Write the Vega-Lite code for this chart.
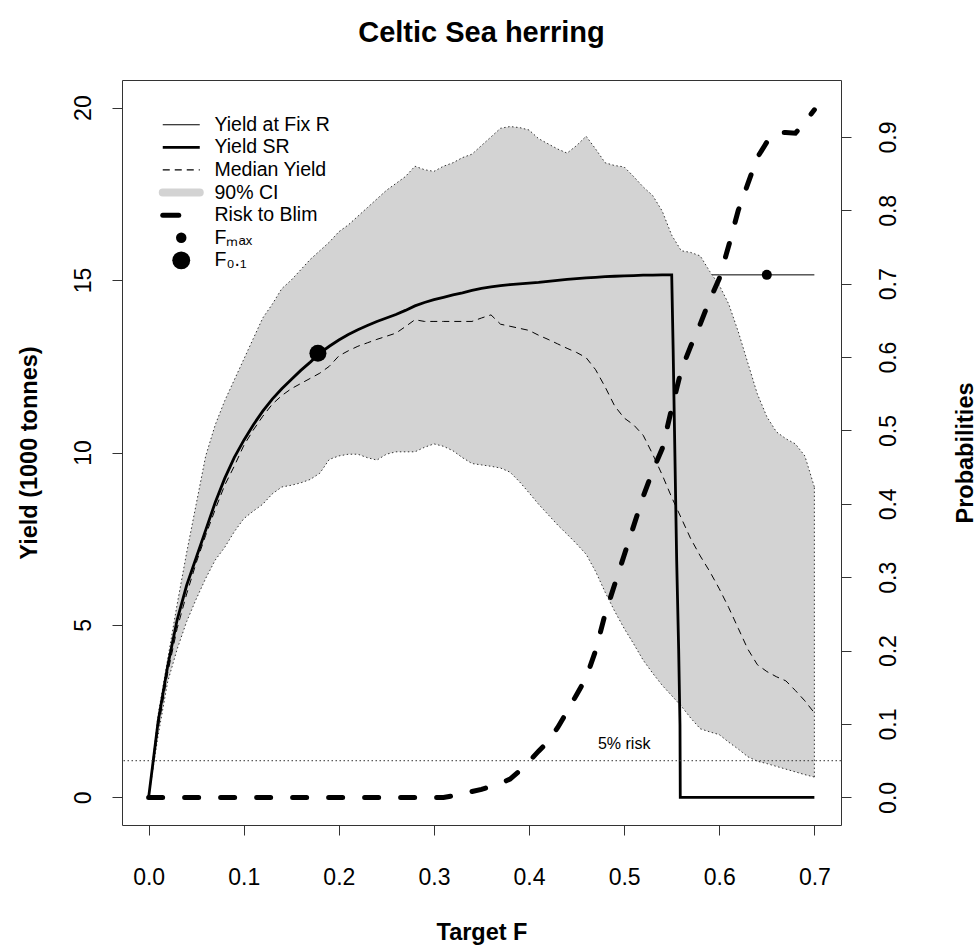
{
"$schema": "https://vega.github.io/schema/vega-lite/v6.json",
"width": 719, "height": 745,
"autosize": {"type": "none"},
"padding": {"left": 122, "top": 80, "right": 137, "bottom": 120},
"background": "white",
"title": {"text": "Celtic Sea herring", "fontSize": 29, "fontWeight": "bold", "font": "Liberation Sans", "color": "#000", "anchor": "middle", "frame": "group", "baseline": "bottom", "offset": 3},
"datasets": {
"sr": [
{"F":0,"Y":0,"series":"Yield SR"},{"F":0.01,"Y":2.2,"series":"Yield SR"},{"F":0.02,"Y":3.8,"series":"Yield SR"},{"F":0.03,"Y":5.15,"series":"Yield SR"},{"F":0.04,"Y":6.15,"series":"Yield SR"},{"F":0.05,"Y":6.95,"series":"Yield SR"},{"F":0.06,"Y":7.75,"series":"Yield SR"},{"F":0.07,"Y":8.55,"series":"Yield SR"},{"F":0.08,"Y":9.25,"series":"Yield SR"},{"F":0.09,"Y":9.85,"series":"Yield SR"},{"F":0.1,"Y":10.35,"series":"Yield SR"},{"F":0.11,"Y":10.8,"series":"Yield SR"},{"F":0.12,"Y":11.2,"series":"Yield SR"},{"F":0.13,"Y":11.55,"series":"Yield SR"},{"F":0.14,"Y":11.85,"series":"Yield SR"},{"F":0.15,"Y":12.12,"series":"Yield SR"},{"F":0.16,"Y":12.38,"series":"Yield SR"},{"F":0.17,"Y":12.62,"series":"Yield SR"},{"F":0.18,"Y":12.88,"series":"Yield SR"},{"F":0.19,"Y":13.08,"series":"Yield SR"},{"F":0.2,"Y":13.26,"series":"Yield SR"},{"F":0.21,"Y":13.42,"series":"Yield SR"},{"F":0.22,"Y":13.56,"series":"Yield SR"},{"F":0.23,"Y":13.68,"series":"Yield SR"},{"F":0.24,"Y":13.8,"series":"Yield SR"},{"F":0.25,"Y":13.9,"series":"Yield SR"},{"F":0.26,"Y":14.0,"series":"Yield SR"},{"F":0.27,"Y":14.12,"series":"Yield SR"},{"F":0.28,"Y":14.25,"series":"Yield SR"},{"F":0.29,"Y":14.35,"series":"Yield SR"},{"F":0.3,"Y":14.43,"series":"Yield SR"},{"F":0.31,"Y":14.5,"series":"Yield SR"},{"F":0.32,"Y":14.57,"series":"Yield SR"},{"F":0.33,"Y":14.63,"series":"Yield SR"},{"F":0.34,"Y":14.7,"series":"Yield SR"},{"F":0.35,"Y":14.76,"series":"Yield SR"},{"F":0.36,"Y":14.8,"series":"Yield SR"},{"F":0.37,"Y":14.84,"series":"Yield SR"},{"F":0.38,"Y":14.87,"series":"Yield SR"},{"F":0.39,"Y":14.89,"series":"Yield SR"},{"F":0.4,"Y":14.91,"series":"Yield SR"},{"F":0.41,"Y":14.93,"series":"Yield SR"},{"F":0.42,"Y":14.96,"series":"Yield SR"},{"F":0.43,"Y":14.99,"series":"Yield SR"},{"F":0.44,"Y":15.02,"series":"Yield SR"},{"F":0.45,"Y":15.04,"series":"Yield SR"},{"F":0.46,"Y":15.06,"series":"Yield SR"},{"F":0.47,"Y":15.08,"series":"Yield SR"},{"F":0.48,"Y":15.1,"series":"Yield SR"},{"F":0.49,"Y":15.11,"series":"Yield SR"},{"F":0.5,"Y":15.12,"series":"Yield SR"},{"F":0.51,"Y":15.13,"series":"Yield SR"},{"F":0.52,"Y":15.14,"series":"Yield SR"},{"F":0.53,"Y":15.14,"series":"Yield SR"},{"F":0.54,"Y":15.15,"series":"Yield SR"},{"F":0.55,"Y":15.15,"series":"Yield SR"},{"F":0.5515,"Y":13.0,"series":"Yield SR"},{"F":0.5552,"Y":6.9,"series":"Yield SR"},{"F":0.5573,"Y":4.3,"series":"Yield SR"},{"F":0.5587,"Y":2.1,"series":"Yield SR"},{"F":0.559,"Y":0,"series":"Yield SR"},{"F":0.6,"Y":0,"series":"Yield SR"},{"F":0.65,"Y":0,"series":"Yield SR"},{"F":0.7,"Y":0,"series":"Yield SR"}
],
"fixr": [
{"F":0,"Y":0,"series":"Yield at Fix R"},{"F":0.01,"Y":2.2,"series":"Yield at Fix R"},{"F":0.02,"Y":3.8,"series":"Yield at Fix R"},{"F":0.03,"Y":5.15,"series":"Yield at Fix R"},{"F":0.04,"Y":6.15,"series":"Yield at Fix R"},{"F":0.05,"Y":6.95,"series":"Yield at Fix R"},{"F":0.06,"Y":7.75,"series":"Yield at Fix R"},{"F":0.07,"Y":8.55,"series":"Yield at Fix R"},{"F":0.08,"Y":9.25,"series":"Yield at Fix R"},{"F":0.09,"Y":9.85,"series":"Yield at Fix R"},{"F":0.1,"Y":10.35,"series":"Yield at Fix R"},{"F":0.12,"Y":11.2,"series":"Yield at Fix R"},{"F":0.14,"Y":11.85,"series":"Yield at Fix R"},{"F":0.16,"Y":12.38,"series":"Yield at Fix R"},{"F":0.18,"Y":12.88,"series":"Yield at Fix R"},{"F":0.2,"Y":13.26,"series":"Yield at Fix R"},{"F":0.22,"Y":13.56,"series":"Yield at Fix R"},{"F":0.24,"Y":13.8,"series":"Yield at Fix R"},{"F":0.26,"Y":14.0,"series":"Yield at Fix R"},{"F":0.28,"Y":14.25,"series":"Yield at Fix R"},{"F":0.3,"Y":14.43,"series":"Yield at Fix R"},{"F":0.32,"Y":14.57,"series":"Yield at Fix R"},{"F":0.34,"Y":14.7,"series":"Yield at Fix R"},{"F":0.36,"Y":14.8,"series":"Yield at Fix R"},{"F":0.38,"Y":14.87,"series":"Yield at Fix R"},{"F":0.4,"Y":14.91,"series":"Yield at Fix R"},{"F":0.42,"Y":14.96,"series":"Yield at Fix R"},{"F":0.44,"Y":15.02,"series":"Yield at Fix R"},{"F":0.46,"Y":15.06,"series":"Yield at Fix R"},{"F":0.48,"Y":15.1,"series":"Yield at Fix R"},{"F":0.5,"Y":15.12,"series":"Yield at Fix R"},{"F":0.52,"Y":15.14,"series":"Yield at Fix R"},{"F":0.54,"Y":15.15,"series":"Yield at Fix R"},{"F":0.56,"Y":15.15,"series":"Yield at Fix R"},{"F":0.6,"Y":15.15,"series":"Yield at Fix R"},{"F":0.65,"Y":15.15,"series":"Yield at Fix R"},{"F":0.7,"Y":15.15,"series":"Yield at Fix R"}
],
"median": [
{"F":0,"Y":0,"series":"Median Yield"},{"F":0.01,"Y":2.0,"series":"Median Yield"},{"F":0.02,"Y":3.6,"series":"Median Yield"},{"F":0.03,"Y":4.9,"series":"Median Yield"},{"F":0.04,"Y":5.9,"series":"Median Yield"},{"F":0.05,"Y":6.8,"series":"Median Yield"},{"F":0.06,"Y":7.6,"series":"Median Yield"},{"F":0.07,"Y":8.35,"series":"Median Yield"},{"F":0.08,"Y":9.05,"series":"Median Yield"},{"F":0.09,"Y":9.6,"series":"Median Yield"},{"F":0.1,"Y":10.2,"series":"Median Yield"},{"F":0.11,"Y":10.65,"series":"Median Yield"},{"F":0.12,"Y":11.05,"series":"Median Yield"},{"F":0.13,"Y":11.4,"series":"Median Yield"},{"F":0.14,"Y":11.65,"series":"Median Yield"},{"F":0.15,"Y":11.85,"series":"Median Yield"},{"F":0.16,"Y":12.0,"series":"Median Yield"},{"F":0.17,"Y":12.15,"series":"Median Yield"},{"F":0.18,"Y":12.3,"series":"Median Yield"},{"F":0.19,"Y":12.5,"series":"Median Yield"},{"F":0.2,"Y":12.8,"series":"Median Yield"},{"F":0.21,"Y":12.95,"series":"Median Yield"},{"F":0.22,"Y":13.08,"series":"Median Yield"},{"F":0.23,"Y":13.18,"series":"Median Yield"},{"F":0.24,"Y":13.28,"series":"Median Yield"},{"F":0.25,"Y":13.37,"series":"Median Yield"},{"F":0.26,"Y":13.46,"series":"Median Yield"},{"F":0.27,"Y":13.65,"series":"Median Yield"},{"F":0.28,"Y":13.85,"series":"Median Yield"},{"F":0.29,"Y":13.8,"series":"Median Yield"},{"F":0.3,"Y":13.8,"series":"Median Yield"},{"F":0.31,"Y":13.8,"series":"Median Yield"},{"F":0.32,"Y":13.8,"series":"Median Yield"},{"F":0.33,"Y":13.8,"series":"Median Yield"},{"F":0.34,"Y":13.8,"series":"Median Yield"},{"F":0.35,"Y":13.9,"series":"Median Yield"},{"F":0.36,"Y":13.99,"series":"Median Yield"},{"F":0.37,"Y":13.72,"series":"Median Yield"},{"F":0.38,"Y":13.66,"series":"Median Yield"},{"F":0.39,"Y":13.6,"series":"Median Yield"},{"F":0.4,"Y":13.54,"series":"Median Yield"},{"F":0.41,"Y":13.4,"series":"Median Yield"},{"F":0.42,"Y":13.28,"series":"Median Yield"},{"F":0.43,"Y":13.15,"series":"Median Yield"},{"F":0.44,"Y":13.02,"series":"Median Yield"},{"F":0.45,"Y":12.9,"series":"Median Yield"},{"F":0.46,"Y":12.75,"series":"Median Yield"},{"F":0.47,"Y":12.4,"series":"Median Yield"},{"F":0.48,"Y":11.9,"series":"Median Yield"},{"F":0.49,"Y":11.35,"series":"Median Yield"},{"F":0.5,"Y":11.0,"series":"Median Yield"},{"F":0.51,"Y":10.8,"series":"Median Yield"},{"F":0.52,"Y":10.5,"series":"Median Yield"},{"F":0.53,"Y":9.95,"series":"Median Yield"},{"F":0.54,"Y":9.35,"series":"Median Yield"},{"F":0.55,"Y":8.7,"series":"Median Yield"},{"F":0.56,"Y":8.1,"series":"Median Yield"},{"F":0.57,"Y":7.5,"series":"Median Yield"},{"F":0.58,"Y":7.0,"series":"Median Yield"},{"F":0.59,"Y":6.55,"series":"Median Yield"},{"F":0.6,"Y":6.05,"series":"Median Yield"},{"F":0.61,"Y":5.5,"series":"Median Yield"},{"F":0.62,"Y":4.9,"series":"Median Yield"},{"F":0.63,"Y":4.3,"series":"Median Yield"},{"F":0.64,"Y":3.85,"series":"Median Yield"},{"F":0.65,"Y":3.65,"series":"Median Yield"},{"F":0.66,"Y":3.5,"series":"Median Yield"},{"F":0.67,"Y":3.38,"series":"Median Yield"},{"F":0.68,"Y":3.1,"series":"Median Yield"},{"F":0.69,"Y":2.8,"series":"Median Yield"},{"F":0.7,"Y":2.45,"series":"Median Yield"}
],
"ci": [
{"F":0,"lo":0,"hi":0},{"F":0.01,"lo":1.8,"hi":2.4},{"F":0.02,"lo":3.35,"hi":4.0},{"F":0.03,"lo":4.3,"hi":5.6},{"F":0.04,"lo":5.1,"hi":7.1},{"F":0.05,"lo":5.75,"hi":8.5},{"F":0.06,"lo":6.35,"hi":9.9},{"F":0.07,"lo":6.88,"hi":10.8},{"F":0.08,"lo":7.25,"hi":11.5},{"F":0.09,"lo":7.7,"hi":12.1},{"F":0.1,"lo":8.08,"hi":12.7},{"F":0.11,"lo":8.3,"hi":13.3},{"F":0.12,"lo":8.5,"hi":13.9},{"F":0.13,"lo":8.8,"hi":14.3},{"F":0.14,"lo":9.0,"hi":14.75},{"F":0.15,"lo":9.05,"hi":15.0},{"F":0.16,"lo":9.12,"hi":15.3},{"F":0.17,"lo":9.22,"hi":15.6},{"F":0.18,"lo":9.4,"hi":15.85},{"F":0.19,"lo":9.8,"hi":16.1},{"F":0.2,"lo":9.9,"hi":16.4},{"F":0.21,"lo":9.95,"hi":16.6},{"F":0.22,"lo":9.95,"hi":16.85},{"F":0.23,"lo":9.85,"hi":17.1},{"F":0.24,"lo":9.78,"hi":17.35},{"F":0.25,"lo":9.95,"hi":17.6},{"F":0.26,"lo":10.02,"hi":17.8},{"F":0.27,"lo":10.02,"hi":18.0},{"F":0.28,"lo":10.02,"hi":18.3},{"F":0.29,"lo":10.15,"hi":18.2},{"F":0.3,"lo":10.25,"hi":18.15},{"F":0.31,"lo":10.18,"hi":18.3},{"F":0.32,"lo":10.05,"hi":18.4},{"F":0.33,"lo":9.85,"hi":18.55},{"F":0.34,"lo":9.68,"hi":18.65},{"F":0.35,"lo":9.64,"hi":18.9},{"F":0.36,"lo":9.6,"hi":19.15},{"F":0.37,"lo":9.55,"hi":19.4},{"F":0.38,"lo":9.43,"hi":19.45},{"F":0.39,"lo":9.15,"hi":19.42},{"F":0.4,"lo":8.83,"hi":19.35},{"F":0.41,"lo":8.5,"hi":19.1},{"F":0.42,"lo":8.2,"hi":18.95},{"F":0.43,"lo":7.9,"hi":18.8},{"F":0.44,"lo":7.63,"hi":18.68},{"F":0.45,"lo":7.35,"hi":18.9},{"F":0.46,"lo":7.05,"hi":19.17},{"F":0.47,"lo":6.55,"hi":18.8},{"F":0.48,"lo":5.95,"hi":18.4},{"F":0.49,"lo":5.4,"hi":18.32},{"F":0.5,"lo":4.9,"hi":18.28},{"F":0.51,"lo":4.45,"hi":18.0},{"F":0.52,"lo":3.98,"hi":17.7},{"F":0.53,"lo":3.6,"hi":17.45},{"F":0.54,"lo":3.25,"hi":17.0},{"F":0.55,"lo":2.95,"hi":16.3},{"F":0.56,"lo":2.65,"hi":15.85},{"F":0.57,"lo":2.3,"hi":15.8},{"F":0.58,"lo":1.99,"hi":15.7},{"F":0.59,"lo":1.9,"hi":15.25},{"F":0.6,"lo":1.82,"hi":14.85},{"F":0.61,"lo":1.6,"hi":14.3},{"F":0.62,"lo":1.4,"hi":13.5},{"F":0.63,"lo":1.18,"hi":12.6},{"F":0.64,"lo":1.05,"hi":11.7},{"F":0.65,"lo":0.98,"hi":11.04},{"F":0.66,"lo":0.9,"hi":10.6},{"F":0.67,"lo":0.82,"hi":10.4},{"F":0.68,"lo":0.74,"hi":10.25},{"F":0.69,"lo":0.66,"hi":9.9},{"F":0.7,"lo":0.59,"hi":9.0}
],
"risk": [
{"F":0,"P":0,"series":"Risk to Blim"},{"F":0.1,"P":0,"series":"Risk to Blim"},{"F":0.2,"P":0,"series":"Risk to Blim"},{"F":0.31,"P":0,"series":"Risk to Blim"},{"F":0.32,"P":0.002,"series":"Risk to Blim"},{"F":0.33,"P":0.005,"series":"Risk to Blim"},{"F":0.34,"P":0.008,"series":"Risk to Blim"},{"F":0.35,"P":0.011,"series":"Risk to Blim"},{"F":0.36,"P":0.015,"series":"Risk to Blim"},{"F":0.37,"P":0.019,"series":"Risk to Blim"},{"F":0.38,"P":0.025,"series":"Risk to Blim"},{"F":0.39,"P":0.036,"series":"Risk to Blim"},{"F":0.4,"P":0.049,"series":"Risk to Blim"},{"F":0.41,"P":0.063,"series":"Risk to Blim"},{"F":0.42,"P":0.076,"series":"Risk to Blim"},{"F":0.43,"P":0.095,"series":"Risk to Blim"},{"F":0.44,"P":0.117,"series":"Risk to Blim"},{"F":0.45,"P":0.14,"series":"Risk to Blim"},{"F":0.46,"P":0.163,"series":"Risk to Blim"},{"F":0.47,"P":0.2,"series":"Risk to Blim"},{"F":0.48,"P":0.25,"series":"Risk to Blim"},{"F":0.49,"P":0.29,"series":"Risk to Blim"},{"F":0.5,"P":0.33,"series":"Risk to Blim"},{"F":0.51,"P":0.37,"series":"Risk to Blim"},{"F":0.52,"P":0.41,"series":"Risk to Blim"},{"F":0.53,"P":0.445,"series":"Risk to Blim"},{"F":0.54,"P":0.475,"series":"Risk to Blim"},{"F":0.55,"P":0.53,"series":"Risk to Blim"},{"F":0.56,"P":0.582,"series":"Risk to Blim"},{"F":0.57,"P":0.615,"series":"Risk to Blim"},{"F":0.58,"P":0.645,"series":"Risk to Blim"},{"F":0.59,"P":0.678,"series":"Risk to Blim"},{"F":0.6,"P":0.707,"series":"Risk to Blim"},{"F":0.61,"P":0.752,"series":"Risk to Blim"},{"F":0.62,"P":0.8,"series":"Risk to Blim"},{"F":0.63,"P":0.836,"series":"Risk to Blim"},{"F":0.64,"P":0.872,"series":"Risk to Blim"},{"F":0.65,"P":0.893,"series":"Risk to Blim"},{"F":0.66,"P":0.906,"series":"Risk to Blim"},{"F":0.67,"P":0.906,"series":"Risk to Blim"},{"F":0.68,"P":0.905,"series":"Risk to Blim"},{"F":0.69,"P":0.92,"series":"Risk to Blim"},{"F":0.7,"P":0.937,"series":"Risk to Blim"}
],
"pts": [{"F":0.65,"Y":15.15,"series":"Fmax"},{"F":0.178,"Y":12.88,"series":"F0.1"}],
"risk5": [{"F":0.5,"P":0.05,"label":"5% risk"}]
},
"layer": [
{
"encoding": {"x": {"field": "F", "type": "quantitative", "title": "Target F", "scale": {"domain": [-0.028, 0.728], "nice": false, "zero": false}, "axis": {"values": [0, 0.1, 0.2, 0.3, 0.4, 0.5, 0.6, 0.7], "format": ".1f"}}},
"layer": [
{"data": {"name": "fixr"}, "mark": {"type": "line", "strokeWidth": 1},
 "encoding": {"y": {"field": "Y", "type": "quantitative", "title": "Yield (1000 tonnes)", "scale": {"domain": [-0.8, 20.8], "nice": false, "zero": false}, "axis": {"orient": "left", "values": [0, 5, 10, 15, 20]}},
  "color": {"field": "series", "type": "nominal", "scale": {"domain": ["Yield at Fix R","Yield SR","Median Yield","90% CI","Risk to Blim","Fmax","F0.1"], "range": ["#000000","#000000","#000000","#d3d3d3","#000000","#000000","#000000"]},
   "legend": {"orient": "none", "legendX": 49.5, "legendY": 35, "direction": "vertical", "title": null, "padding": 0, "rowPadding": 1.6, "labelFontSize": 19.5, "labelFont": "Liberation Sans", "labelColor": "#000", "labelOffset": 23.5, "symbolSize": 400, "symbolType": "M-1.85,0H1.85", "symbolStrokeWidth": 1,
    "labelExpr": "datum.value === 'Fmax' ? 'Fₘₐₓ' : datum.value === 'F0.1' ? 'F₀.₁' : datum.label",
    "encode": {"symbols": {"update": {
      "shape": {"signal": "datum.value === 'Fmax' || datum.value === 'F0.1' ? 'circle' : 'M-1.85,0H1.85'"},
      "size": {"signal": "datum.value === 'Fmax' ? 110 : datum.value === 'F0.1' ? 320 : 400"},
      "stroke": {"signal": "datum.value === '90% CI' ? '#d3d3d3' : '#000000'"},
      "fill": {"signal": "datum.value === 'Fmax' || datum.value === 'F0.1' ? '#000000' : 'transparent'"},
      "strokeWidth": {"signal": "datum.value === 'Yield SR' ? 2.8 : datum.value === '90% CI' ? 8 : datum.value === 'Risk to Blim' ? 5 : (datum.value === 'Fmax' || datum.value === 'F0.1') ? 0 : 1.2"},
      "strokeDash": {"signal": "datum.value === 'Median Yield' ? [7,5] : datum.value === 'Risk to Blim' ? [16,40] : [1,0]"},
      "strokeCap": {"signal": "datum.value === 'Risk to Blim' || datum.value === '90% CI' ? 'round' : 'butt'"},
      "strokeJoin": {"value": "round"},
      "opacity": {"value": 1}
    }}}
   }}}},
{"data": {"name": "ci"}, "mark": {"type": "area", "color": "#d3d3d3", "opacity": 1},
 "encoding": {"y": {"field": "lo", "type": "quantitative", "title": "Yield (1000 tonnes)", "scale": {"domain": [-0.8, 20.8], "nice": false, "zero": false}, "axis": {"orient": "left", "values": [0, 5, 10, 15, 20]}}, "y2": {"field": "hi"}}},
{"data": {"name": "ci"}, "mark": {"type": "line", "color": "#333333", "strokeWidth": 1, "strokeDash": [1.5, 2.5]},
 "encoding": {"y": {"field": "hi", "type": "quantitative", "title": "Yield (1000 tonnes)", "scale": {"domain": [-0.8, 20.8], "nice": false, "zero": false}, "axis": {"orient": "left", "values": [0, 5, 10, 15, 20]}}}},
{"data": {"name": "ci"}, "mark": {"type": "line", "color": "#333333", "strokeWidth": 1, "strokeDash": [1.5, 2.5]},
 "encoding": {"y": {"field": "lo", "type": "quantitative", "title": "Yield (1000 tonnes)", "scale": {"domain": [-0.8, 20.8], "nice": false, "zero": false}, "axis": {"orient": "left", "values": [0, 5, 10, 15, 20]}}}},
{"data": {"name": "ci"}, "transform": [{"filter": "datum.F === 0.7"}], "mark": {"type": "rule", "color": "#333333", "strokeWidth": 1, "strokeDash": [1.5, 2.5]},
 "encoding": {"y": {"field": "lo", "type": "quantitative", "title": "Yield (1000 tonnes)", "scale": {"domain": [-0.8, 20.8], "nice": false, "zero": false}, "axis": {"orient": "left", "values": [0, 5, 10, 15, 20]}}, "y2": {"field": "hi"}}},
{"data": {"name": "median"}, "mark": {"type": "line", "strokeWidth": 1, "strokeDash": [7, 5]},
 "encoding": {"y": {"field": "Y", "type": "quantitative", "title": "Yield (1000 tonnes)", "scale": {"domain": [-0.8, 20.8], "nice": false, "zero": false}, "axis": {"orient": "left", "values": [0, 5, 10, 15, 20]}},
  "color": {"field": "series", "type": "nominal", "scale": {"domain": ["Yield at Fix R","Yield SR","Median Yield","90% CI","Risk to Blim","Fmax","F0.1"], "range": ["#000000","#000000","#000000","#d3d3d3","#000000","#000000","#000000"]}}}},
{"data": {"name": "sr"}, "mark": {"type": "line", "strokeWidth": 2.8},
 "encoding": {"y": {"field": "Y", "type": "quantitative", "title": "Yield (1000 tonnes)", "scale": {"domain": [-0.8, 20.8], "nice": false, "zero": false}, "axis": {"orient": "left", "values": [0, 5, 10, 15, 20]}},
  "color": {"field": "series", "type": "nominal", "scale": {"domain": ["Yield at Fix R","Yield SR","Median Yield","90% CI","Risk to Blim","Fmax","F0.1"], "range": ["#000000","#000000","#000000","#d3d3d3","#000000","#000000","#000000"]}}}},
{"data": {"name": "pts"}, "transform": [{"filter": "datum.series === 'Fmax'"}], "mark": {"type": "point", "filled": true, "opacity": 1, "size": 100, "shape": "circle"},
 "encoding": {"y": {"field": "Y", "type": "quantitative", "title": "Yield (1000 tonnes)", "scale": {"domain": [-0.8, 20.8], "nice": false, "zero": false}, "axis": {"orient": "left", "values": [0, 5, 10, 15, 20]}},
  "color": {"field": "series", "type": "nominal", "scale": {"domain": ["Yield at Fix R","Yield SR","Median Yield","90% CI","Risk to Blim","Fmax","F0.1"], "range": ["#000000","#000000","#000000","#d3d3d3","#000000","#000000","#000000"]}}}},
{"data": {"name": "pts"}, "transform": [{"filter": "datum.series === 'F0.1'"}], "mark": {"type": "point", "filled": true, "opacity": 1, "size": 290, "shape": "circle"},
 "encoding": {"y": {"field": "Y", "type": "quantitative", "title": "Yield (1000 tonnes)", "scale": {"domain": [-0.8, 20.8], "nice": false, "zero": false}, "axis": {"orient": "left", "values": [0, 5, 10, 15, 20]}},
  "color": {"field": "series", "type": "nominal", "scale": {"domain": ["Yield at Fix R","Yield SR","Median Yield","90% CI","Risk to Blim","Fmax","F0.1"], "range": ["#000000","#000000","#000000","#d3d3d3","#000000","#000000","#000000"]}}}}
]
},
{
"encoding": {"y": {"field": "P", "type": "quantitative", "title": "Probabilities", "scale": {"domain": [-0.0376, 0.9776], "nice": false, "zero": false}, "axis": {"orient": "right", "values": [0, 0.1, 0.2, 0.3, 0.4, 0.5, 0.6, 0.7, 0.8, 0.9], "format": ".1f"}}},
"layer": [
{"data": {"name": "risk"}, "mark": {"type": "line", "strokeWidth": 5, "strokeDash": [14, 22], "strokeCap": "round"},
 "encoding": {"x": {"field": "F", "type": "quantitative", "title": "Target F", "scale": {"domain": [-0.028, 0.728], "nice": false, "zero": false}, "axis": {"values": [0, 0.1, 0.2, 0.3, 0.4, 0.5, 0.6, 0.7], "format": ".1f"}},
  "color": {"field": "series", "type": "nominal", "scale": {"domain": ["Yield at Fix R","Yield SR","Median Yield","90% CI","Risk to Blim","Fmax","F0.1"], "range": ["#000000","#000000","#000000","#d3d3d3","#000000","#000000","#000000"]}}}},
{"data": {"name": "risk5"}, "mark": {"type": "rule", "color": "#333333", "strokeWidth": 1, "strokeDash": [1.5, 2.5]}, "encoding": {}},
{"data": {"name": "risk5"}, "mark": {"type": "text", "fontSize": 16, "font": "Liberation Sans", "color": "#000", "baseline": "bottom", "dy": -9},
 "encoding": {"x": {"field": "F", "type": "quantitative", "title": "Target F", "scale": {"domain": [-0.028, 0.728], "nice": false, "zero": false}, "axis": {"values": [0, 0.1, 0.2, 0.3, 0.4, 0.5, 0.6, 0.7], "format": ".1f"}}, "text": {"field": "label"}}}
]
}
],
"resolve": {"scale": {"y": "independent"}},
"config": {
 "font": "Liberation Sans",
 "view": {"stroke": "#333333", "strokeWidth": 1},
 "axis": {"domain": false, "grid": false, "ticks": true, "tickColor": "#333333", "tickSize": 10, "tickWidth": 1, "labelFont": "Liberation Sans", "labelFontSize": 23, "labelColor": "#000", "titleFont": "Liberation Sans", "titleFontSize": 23.5, "titleFontWeight": "bold", "titleColor": "#000", "labelOverlap": false, "labelFlush": false},
 "axisBottom": {"labelPadding": 31, "titlePadding": 31},
 "axisLeft": {"labelAngle": -90, "labelPadding": 17, "titlePadding": 31},
 "axisRight": {"labelAngle": -90, "labelPadding": 26, "titlePadding": 77, "titleAngle": 270}
}
}
